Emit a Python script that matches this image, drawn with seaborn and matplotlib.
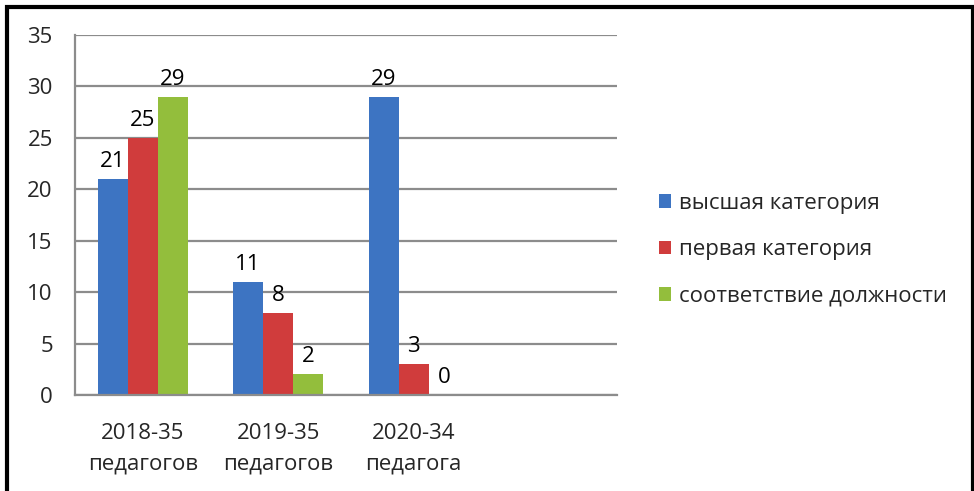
import matplotlib
matplotlib.use('Agg')
from matplotlib import pyplot as plt
from matplotlib.patches import Rectangle
import numpy as np
import pandas as pd
import seaborn as sns

# data
years = ['2018-35\nпедагогов', '2019-35\nпедагогов', '2020-34\nпедагога', '']
series = ['высшая категория', 'первая категория', 'соответствие должности']
highest = [21, 11, 29]
first = [25, 8, 3]
matches = [29, 2, 0]
colors = ['#3D74C2', '#D03C3C', '#93BE3C']


def plot():
    rows = []
    for name, vals in zip(series, [highest, first, matches]):
        for year, v in zip(years[:3], vals):
            rows.append({'Год': year, 'Категория': name, 'Число': v})
    df = pd.DataFrame(rows)

    sns.set_style('white')
    plt.rcParams['font.family'] = ['Open Sans', 'DejaVu Sans']

    fig = plt.figure(figsize=(9.74, 4.91), dpi=100)
    ax = fig.add_axes([75 / 974, 1 - 395 / 491, 542 / 974, 360 / 491])

    sns.barplot(data=df, x='Год', y='Число', hue='Категория', order=years,
                hue_order=series, palette=colors, width=0.667,
                saturation=1, ax=ax, edgecolor='none')

    for cont in ax.containers:
        ax.bar_label(cont, padding=5, fontsize=16, color='black')

    ax.set_ylim(0, 35)
    ax.set_xlim(-0.5, 3.5)
    ax.set_yticks(np.arange(0, 36, 5))
    ax.yaxis.grid(True, color='#8c8c8c', linewidth=1.6)
    ax.set_axisbelow(True)
    ax.set_xlabel('')
    ax.set_ylabel('')
    for side in ['top', 'right']:
        ax.spines[side].set_visible(False)
    for side in ['left', 'bottom']:
        ax.spines[side].set_color('#8c8c8c')
        ax.spines[side].set_linewidth(1.6)

    ax.set_xticks(range(4))
    ax.set_xticklabels(years, fontsize=16, linespacing=1.6)
    ax.set_xticks(np.arange(-0.5, 4, 1), minor=True)
    ax.tick_params(axis='x', which='major', length=0, pad=20)
    ax.tick_params(axis='x', which='minor', length=7, width=1.6,
                   color='#8c8c8c', direction='out')
    ax.tick_params(axis='y', length=7, width=1.6, color='#8c8c8c',
                   direction='out', labelsize=16, pad=9)

    ax.legend(loc='center left', bbox_to_anchor=(1.04, 0.403), frameon=False,
              fontsize=16, handlelength=0.55, handleheight=0.55,
              handletextpad=0.35, labelspacing=1.15)

    fig.patches.append(Rectangle((7 / 974, -0.01), 966 / 974, 1 - 7 / 491 + 0.01,
                                 transform=fig.transFigure, fill=False,
                                 edgecolor='black', linewidth=3))
    fig.text(0.48, 1 + 6 / 491, 'Квалификационный уровень за период',
             ha='center', va='baseline', fontsize=20, fontweight='bold',
             family='Liberation Serif')

    fig.savefig('out.png', dpi=100)


def main():
    plot()


if __name__ == "__main__":
    main()
